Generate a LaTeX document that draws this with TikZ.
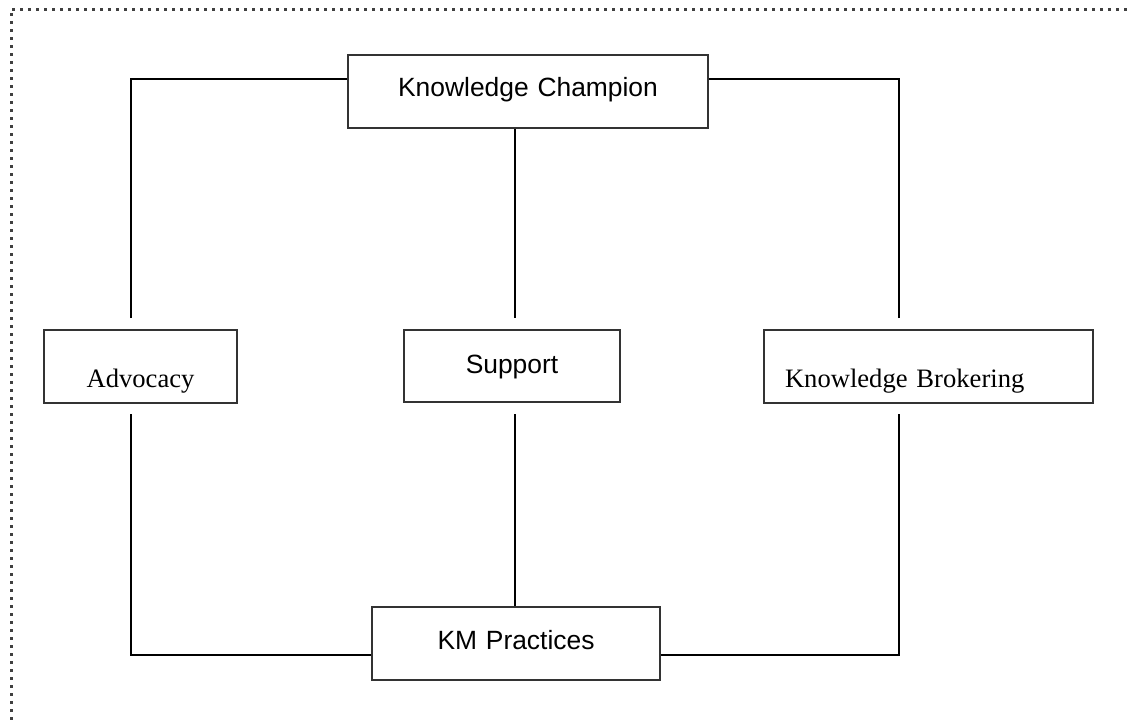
\documentclass[tikz,border=0pt]{standalone}
\usepackage{fontspec}
\setmainfont{Liberation Serif}
\newfontfamily\arialf{Liberation Sans}
\tikzset{
  boxnode/.style={draw=black!80, line width=2pt, inner sep=0pt, anchor=north west, align=center, fill=white},
  sanslabel/.style={font=\arialf\fontsize{26.4}{30}\selectfont},
  seriflabel/.style={font=\fontsize{26.6}{30}\selectfont},
  link/.style={draw=black, line width=1.3pt},
  dotborder/.style={draw=black!75, line width=3pt, dash pattern=on 3pt off 5pt}
}
\begin{document}
\begin{tikzpicture}[x=1pt,y=-1pt]
\useasboundingbox (0,0) rectangle (1130,724);
\draw[dotborder] (12,9) -- (1134,9);
\draw[dotborder] (11,13) -- (11,728);

\node[boxnode, sanslabel, text width=360pt, text height=41pt, text depth=32pt] (KC) at (347,54) {Knowledge Champion};
\node[boxnode, seriflabel, text width=193pt, text height=57pt, text depth=16pt] (ADV) at (43,329) {Advocacy};
\node[boxnode, sanslabel, text width=216pt, text height=43pt, text depth=29pt] (SUP) at (403,329) {Support};
\node[boxnode, seriflabel, align=left, inner xsep=21pt, text width=287pt, text height=57pt, text depth=16pt] (KB) at (763,329) {Knowledge Brokering};
\node[boxnode, sanslabel, text width=288pt, text height=42pt, text depth=31pt] (KM) at (371,606) {KM Practices};

\coordinate (advU) at (131,318);
\coordinate (advD) at (131,414);
\coordinate (supU) at (515,318);
\coordinate (supD) at (515,414);
\coordinate (kbU) at (899,318);
\coordinate (kbD) at (899,414);

\draw[link] (advU) |- ([yshift=12.5pt]KC.west);
\draw[link] (kbU) |- ([yshift=12.5pt]KC.east);
\draw[link] (KC.south -| supU) -- (supU);
\draw[link] (advD) |- ([yshift=-11.5pt]KM.west);
\draw[link] (kbD) |- ([yshift=-11.5pt]KM.east);
\draw[link] (supD) -- (KM.north -| supD);
\end{tikzpicture}
\end{document}
